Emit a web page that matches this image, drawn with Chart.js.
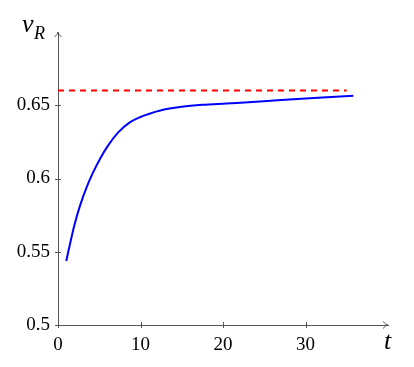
<!DOCTYPE html>
<html>
<head>
<meta charset="utf-8">
<script src="https://cdn.jsdelivr.net/npm/chart.js@4"></script>
<style>
  body { margin: 0; background: #fff; }
  #wrap { width: 414px; height: 367px; }
</style>
</head>
<body>
<div id="wrap"><canvas id="vrChart"></canvas></div>
<script>
// curve
var tValues = [1.0, 1.5, 2.0, 2.7, 3.5, 4.2, 5.1, 6.1, 7.3, 8.7, 10.0, 11.0, 12.0, 13.0, 15.0, 17.5, 20.4, 24.5, 28.5, 32.6, 35.8];
var vrValues = [0.5437, 0.5565, 0.5685, 0.582, 0.5945, 0.6035, 0.6135, 0.6228, 0.6315, 0.6383, 0.6420, 0.6440, 0.6458, 0.6472, 0.6490, 0.6503, 0.6512, 0.6525, 0.6541, 0.6555, 0.6565];

// dashed reference level
var refT = [0, 35];
var refV = [0.66, 0.66];

var xTicks = [0, 10, 20, 30];
var yTicks = [0.5, 0.55, 0.6, 0.65];

var axisColor = '#555555';
var serif = "'Liberation Serif', 'DejaVu Serif', serif";

function toPoints(xs, ys) {
    return xs.map(function(x, i) { return { x: x, y: ys[i] }; });
}

// axis arrows, tick marks crossing the axes, and the axis names
var axisDecor = {
    id: 'axisDecor',
    afterDraw: function(chart) {
        var ctx = chart.ctx;
        var xs = chart.scales.x, ys = chart.scales.y;
        var x0 = xs.getPixelForValue(0), y0 = ys.getPixelForValue(0.5);
        var xEnd = xs.getPixelForValue(40), yEnd = ys.getPixelForValue(0.7);
        ctx.save();
        ctx.strokeStyle = axisColor;
        ctx.lineWidth = 1;
        ctx.beginPath();
        xTicks.forEach(function(v) {
            var px = Math.round(xs.getPixelForValue(v)) + 0.5;
            ctx.moveTo(px, y0 - 3);
            ctx.lineTo(px, y0 + 3);
        });
        yTicks.forEach(function(v) {
            var py = Math.round(ys.getPixelForValue(v)) + 0.5;
            ctx.moveTo(x0 - 3, py);
            ctx.lineTo(x0 + 3, py);
        });
        // arrow heads
        ctx.moveTo(xEnd - 5, y0 - 3.5);
        ctx.quadraticCurveTo(xEnd - 2, y0, xEnd, y0);
        ctx.quadraticCurveTo(xEnd - 2, y0, xEnd - 5, y0 + 3.5);
        ctx.moveTo(x0 - 3.5, yEnd + 5);
        ctx.quadraticCurveTo(x0, yEnd + 2, x0, yEnd);
        ctx.quadraticCurveTo(x0, yEnd + 2, x0 + 3.5, yEnd + 5);
        ctx.stroke();

        ctx.fillStyle = '#000';
        ctx.textBaseline = 'alphabetic';
        ctx.textAlign = 'left';
        ctx.font = 'italic 26px ' + serif;
        ctx.fillText('v', 22, 32);
        ctx.font = 'italic 18px ' + serif;
        ctx.fillText('R', 34, 39);
        ctx.font = 'italic 26px ' + serif;
        ctx.fillText('t', 384, 349);
        ctx.restore();
    }
};

var ctx = document.getElementById('vrChart').getContext('2d');
var vrChart = new Chart(ctx, {
    type: 'scatter',
    data: {
        datasets: [{
            label: 'vR',
            data: toPoints(tValues, vrValues),
            showLine: true,
            borderColor: '#0000ff',
            borderWidth: 2,
            pointRadius: 0,
            cubicInterpolationMode: 'monotone'
        }, {
            label: 'limit',
            data: toPoints(refT, refV),
            showLine: true,
            borderColor: '#ff0000',
            borderWidth: 2,
            borderDash: [6, 5],
            pointRadius: 0
        }]
    },
    options: {
        responsive: true,
        maintainAspectRatio: false,
        animation: false,
        layout: {
            padding: { left: 0, right: 26, top: 32, bottom: 0 }
        },
        plugins: {
            legend: { display: false },
            tooltip: { enabled: false }
        },
        scales: {
            x: {
                type: 'linear',
                min: 0,
                max: 40,
                afterFit: function(scale) { scale.height = 42; },
                afterBuildTicks: function(scale) {
                    scale.ticks = xTicks.map(function(v) { return { value: v }; });
                },
                grid: { display: false },
                border: { display: true, color: axisColor, width: 1 },
                ticks: {
                    color: '#000',
                    padding: 1,
                    maxRotation: 0,
                    font: { family: serif, size: 19 },
                    callback: function(v) { return String(v); }
                }
            },
            y: {
                type: 'linear',
                min: 0.5,
                max: 0.7,
                afterFit: function(scale) { scale.width = 58; },
                afterBuildTicks: function(scale) {
                    scale.ticks = yTicks.map(function(v) { return { value: v }; });
                },
                grid: { display: false },
                border: { display: true, color: axisColor, width: 1 },
                ticks: {
                    color: '#000',
                    padding: 0,
                    font: { family: serif, size: 19 },
                    callback: function(v) { return String(+v.toFixed(2)); }
                }
            }
        }
    },
    plugins: [axisDecor]
});
</script>
</body>
</html>
